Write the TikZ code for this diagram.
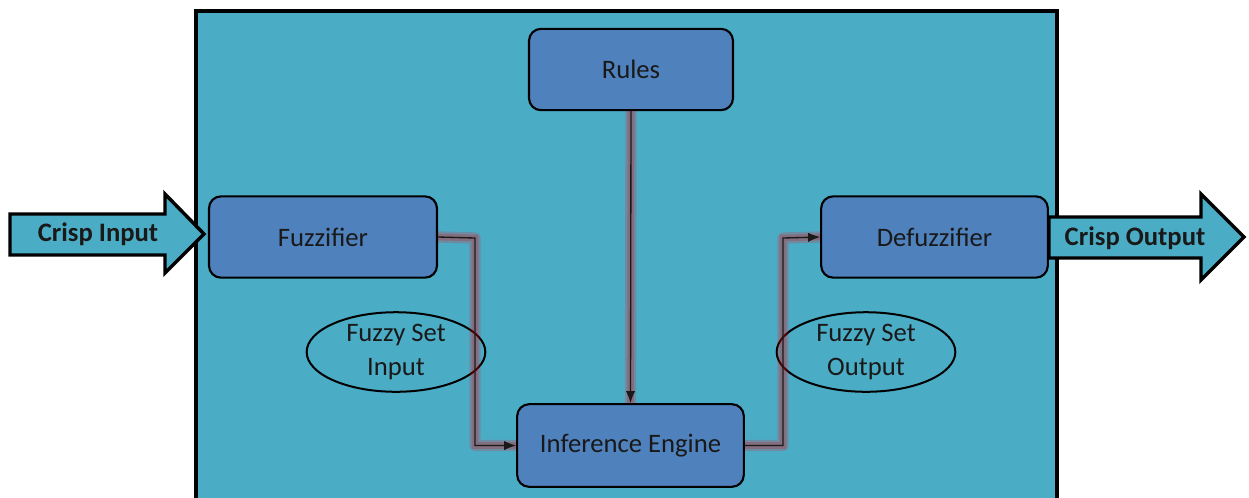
\documentclass[tikz,border=0pt]{standalone}
\usepackage{fontspec}
\setmainfont{Carlito}
\usetikzlibrary{arrows.meta,shapes.geometric}
\definecolor{aqua}{HTML}{4BACC6}
\definecolor{boxblue}{HTML}{4F81BD}
\tikzset{
  px/.style={x=0.75pt,y=-0.75pt},
  blk/.style={draw=black,line width=1.6pt,fill=boxblue,rounded corners=9pt,
    font=\fontsize{20}{24}\selectfont,text=black!90,inner sep=0pt},
  ell/.style={ellipse,draw=black,line width=1.5pt,inner sep=0pt,
    font=\fontsize{20}{24}\selectfont,align=center,text=black!90},
  glowa/.style={draw=red,opacity=0.18,line width=8.5pt,line join=round},
  glowb/.style={draw=red!85!black,opacity=0.22,line width=5pt},
  conn/.style={draw=black!90,line width=1pt,-{Latex[length=9pt,width=7pt]}},
  fat/.style={draw=black,line width=2.6pt,fill=aqua,line join=miter},
  lbl/.style={font=\bfseries\fontsize{20}{24}\selectfont,text=black!90}
}
\begin{document}
\begin{tikzpicture}[px]
\useasboundingbox (0,0) rectangle (1249,497);
\begin{scope}
\clip (0,0) rectangle (1249,497);
\draw[draw=black,line width=2.8pt,fill=aqua] (196,11) rectangle (1057,520);
\end{scope}
% blocks
\node[blk,minimum width=153pt,minimum height=61pt] (rules) at (631,69.5) {Rules};
\node[blk,minimum width=171pt,minimum height=61pt] (fuzz) at (323,237) {Fuzzifier};
\node[blk,minimum width=170pt,minimum height=61pt] (defuzz) at (934.5,237) {Defuzzifier};
\node[blk,minimum width=170pt,minimum height=62pt] (inf) at (630.5,445.5) {Inference Engine};
% ellipses
\node[ell,minimum width=134pt,minimum height=54pt] (fsi) at (396,352) {Fuzzy Set\\[2pt]Input};
\node[ell,minimum width=134pt,minimum height=54pt] (fso) at (866,352) {Fuzzy Set\\[2pt]Output};
% connectors
\coordinate (c1) at (475,238);
\coordinate (c2) at (783,238);
\foreach \g in {glowa,glowb}{
  \draw[\g] (fuzz.east) -- (c1) -- (c1 |- inf.west) -- (inf.west);
  \draw[\g] (rules.south) -- (inf.north);
  \draw[\g] (inf.east) -- (c2 |- inf.east) -- (c2) -- (defuzz.west);
}
\draw[conn] (fuzz.east) -- (c1) -- (c1 |- inf.west) -- (inf.west);
\draw[conn] (rules.south) -- (inf.north);
\draw[conn] (inf.east) -- (c2 |- inf.east) -- (c2) -- (defuzz.west);
% crisp arrows
\draw[fat] (10,214) -- (165,214) -- (165,194) -- (204,234) -- (165,273) -- (165,255) -- (10,255) -- cycle;
\node[lbl] (cin) at (98,234) {Crisp Input};
\draw[fat] (1049,217) -- (1201,217) -- (1201,194) -- (1244,237) -- (1201,280) -- (1201,258) -- (1049,258) -- cycle;
\node[lbl] (cout) at (1135,238) {Crisp Output};
\end{tikzpicture}
\end{document}
